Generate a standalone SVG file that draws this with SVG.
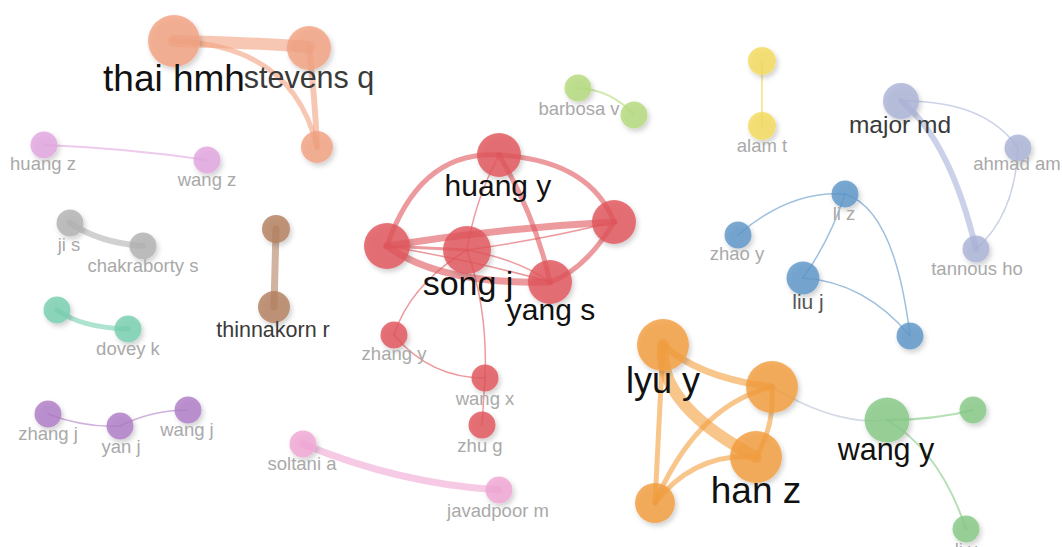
<svg xmlns="http://www.w3.org/2000/svg" width="1062" height="547" viewBox="0 0 1062 547">
<defs>
<filter id="sh" x="-50%" y="-50%" width="200%" height="200%">
<feDropShadow dx="2" dy="3" stdDeviation="2.5" flood-color="#000" flood-opacity="0.22"/>
</filter>
</defs>
<style>
.n{filter:url(#sh);fill-opacity:0.82}
.e{fill:none;stroke-linecap:round;stroke-opacity:0.6}
.t{font-family:"Liberation Sans",Arial,sans-serif;text-anchor:middle}
.s{font-size:18.5px;fill:#a9a9a9}
.big{fill:#111}
.mid{fill:#3a3a3a}
.salmon{fill:#f2a181}.salmonE{stroke:#f2a181}
.red{fill:#e0565c}.redE{stroke:#e0565c}
.org{fill:#f39e3e}.orgE{stroke:#f39e3e}
.grn{fill:#86c986}.grnE{stroke:#86c986}
.lgr{fill:#b4da7c}.lgrE{stroke:#b4da7c}
.yel{fill:#f4da5e}.yelE{stroke:#f4da5e}
.lav{fill:#a9b3d8}.lavE{stroke:#a9b3d8}
.blu{fill:#5e96c8}.bluE{stroke:#5e96c8}
.gry{fill:#b2b2b2}.gryE{stroke:#b2b2b2}
.tea{fill:#78d0b0}.teaE{stroke:#78d0b0}
.pur{fill:#b07cc6}.purE{stroke:#b07cc6}
.brn{fill:#b3805f}.brnE{stroke:#b3805f}
.pk1{fill:#e2a6df}.pk1E{stroke:#e2a6df}
.pk2{fill:#f0a6d4}.pk2E{stroke:#f0a6d4}
</style>
<rect width="1062" height="547" fill="#fff"/>
<g id="connectors">
<path class="e salmonE" stroke-width="12" d="M174,41 Q242,42 309,47"/>
<path class="e salmonE" stroke-width="6" d="M309,48 Q315,98 317,147"/>
<path class="e salmonE" stroke-width="5" d="M174,41 Q293,45 317,147"/>
<path class="e pk1E" stroke-width="2" d="M44,145 Q125,148 207,160"/>
<path class="e gryE" stroke-width="6" d="M70,223 Q100,243 143,246"/>
<path class="e teaE" stroke-width="5" d="M57,310 Q82,328 128,329"/>
<path class="e purE" stroke-width="1.5" d="M48,414 Q85,428 120,426"/>
<path class="e purE" stroke-width="1.5" d="M120,426 Q152,410 188,410"/>
<path class="e brnE" stroke-width="7" d="M276,229 L274,307"/>
<path class="e pk2E" stroke-width="7" d="M303,444 Q400,484 499,490"/>
<path class="e lgrE" stroke-width="2" d="M578,88 Q612,90 634,115"/>
<path class="e yelE" stroke-width="2" d="M762,61 L762,126"/>
<path class="e redE" stroke-width="5" d="M499,155 Q420,150 387,246"/>
<path class="e redE" stroke-width="5" d="M499,155 Q590,160 614,222"/>
<path class="e redE" stroke-width="5" d="M499,155 Q535,215 550,282"/>
<path class="e redE" stroke-width="1.5" d="M499,155 Q475,200 467,250"/>
<path class="e redE" stroke-width="7" d="M387,246 Q500,228 614,222"/>
<path class="e redE" stroke-width="7" d="M387,246 Q440,285 550,282"/>
<path class="e redE" stroke-width="3" d="M387,246 L467,250"/>
<path class="e redE" stroke-width="1.5" d="M387,246 Q480,262 550,282"/>
<path class="e redE" stroke-width="1.5" d="M467,250 Q540,240 614,222"/>
<path class="e redE" stroke-width="1.5" d="M467,250 Q520,260 550,282"/>
<path class="e redE" stroke-width="5" d="M614,222 Q585,270 550,282"/>
<path class="e redE" stroke-width="1.5" d="M467,250 Q410,285 394,335"/>
<path class="e redE" stroke-width="1.5" d="M467,250 Q488,310 485,378"/>
<path class="e redE" stroke-width="1.5" d="M394,335 Q430,378 485,378"/>
<path class="e redE" stroke-width="1.5" d="M485,378 L482,425"/>
<path class="e bluE" stroke-width="1.5" d="M738,235 Q790,190 845,194"/>
<path class="e bluE" stroke-width="1.5" d="M845,194 Q830,240 803,278"/>
<path class="e bluE" stroke-width="1.5" d="M845,194 Q895,210 910,336"/>
<path class="e bluE" stroke-width="1.5" d="M803,278 Q865,282 910,336"/>
<path class="e lavE" stroke-width="6" d="M901,101 Q950,140 976,249"/>
<path class="e lavE" stroke-width="1.5" d="M901,101 Q985,100 1018,148"/>
<path class="e lavE" stroke-width="1.5" d="M1018,148 Q1015,215 976,249"/>
<path class="e orgE" stroke-width="12" d="M663,345 Q657,405 756,457"/>
<path class="e orgE" stroke-width="7" d="M663,345 Q700,378 772,387"/>
<path class="e orgE" stroke-width="5" d="M663,345 L655,503"/>
<path class="e orgE" stroke-width="5" d="M655,503 Q697,405 772,387"/>
<path class="e orgE" stroke-width="5" d="M655,503 Q695,452 756,457"/>
<path class="e orgE" stroke-width="5" d="M772,387 Q775,425 756,457"/>
<path class="e" stroke="#b8c2d4" stroke-width="1.5" d="M772,387 Q836,426 887,420"/>
<path class="e grnE" stroke-width="2" d="M887,420 Q935,420 973,410"/>
<path class="e grnE" stroke-width="2" d="M887,420 Q940,451 966,529"/>
</g>
<g id="n-thai-hmh"><circle class="n salmon" cx="174" cy="41" r="26"/><text class="t big" x="174" y="91" font-size="37">thai hmh</text></g>
<g id="n-stevens-q"><circle class="n salmon" cx="309" cy="48" r="22"/><text class="t mid" x="309" y="88" font-size="30.5">stevens q</text></g>
<g id="n-salmon3"><circle class="n salmon" cx="317" cy="147" r="16"/></g>
<g id="n-huang-z"><circle class="n pk1" cx="44" cy="145" r="13.5"/><text class="t s" x="43" y="170">huang z</text></g>
<g id="n-wang-z"><circle class="n pk1" cx="207" cy="160" r="13.5"/><text class="t s" x="207" y="186">wang z</text></g>
<g id="n-ji-s"><circle class="n gry" cx="70" cy="223" r="13.5"/><text class="t s" x="69" y="251">ji s</text></g>
<g id="n-chakraborty-s"><circle class="n gry" cx="143" cy="246" r="13.5"/><text class="t s" x="143" y="272">chakraborty s</text></g>
<g id="n-teal1"><circle class="n tea" cx="57" cy="310" r="13.5"/></g>
<g id="n-dovey-k"><circle class="n tea" cx="128" cy="329" r="13.5"/><text class="t s" x="128" y="355">dovey k</text></g>
<g id="n-zhang-j"><circle class="n pur" cx="48" cy="414" r="13.5"/><text class="t s" x="48" y="440">zhang j</text></g>
<g id="n-yan-j"><circle class="n pur" cx="120" cy="426" r="13.5"/><text class="t s" x="121" y="453">yan j</text></g>
<g id="n-wang-j"><circle class="n pur" cx="188" cy="410" r="13.5"/><text class="t s" x="187" y="436">wang j</text></g>
<g id="n-brown1"><circle class="n brn" cx="276" cy="229" r="14"/></g>
<g id="n-thinnakorn-r"><circle class="n brn" cx="274" cy="307" r="16"/><text class="t mid" x="273" y="337" font-size="21.5">thinnakorn r</text></g>
<g id="n-soltani-a"><circle class="n pk2" cx="303" cy="444" r="13.5"/><text class="t s" x="302" y="470">soltani a</text></g>
<g id="n-javadpoor-m"><circle class="n pk2" cx="499" cy="490" r="13.5"/><text class="t s" x="498" y="517">javadpoor m</text></g>
<g id="n-red-left"><circle class="n red" cx="387" cy="246" r="23"/></g>
<g id="n-red-right"><circle class="n red" cx="614" cy="222" r="22"/></g>
<g id="n-huang-y"><circle class="n red" cx="499" cy="155" r="22"/><text class="t big" x="498" y="196" font-size="30">huang y</text></g>
<g id="n-song-j"><circle class="n red" cx="467" cy="250" r="24"/><text class="t big" x="468" y="295" font-size="34">song j</text></g>
<g id="n-yang-s"><circle class="n red" cx="550" cy="282" r="22"/><text class="t big" x="551" y="320" font-size="30">yang s</text></g>
<g id="n-zhang-y"><circle class="n red" cx="394" cy="335" r="13.5"/><text class="t s" x="394" y="360">zhang y</text></g>
<g id="n-wang-x"><circle class="n red" cx="485" cy="378" r="13.5"/><text class="t s" x="485" y="405">wang x</text></g>
<g id="n-zhu-g"><circle class="n red" cx="482" cy="425" r="13.5"/><text class="t s" x="480" y="452">zhu g</text></g>
<g id="n-barbosa-v"><circle class="n lgr" cx="578" cy="88" r="13.5"/><text class="t s" x="579" y="115">barbosa v</text></g>
<g id="n-lgreen2"><circle class="n lgr" cx="634" cy="115" r="13.5"/></g>
<g id="n-yellow1"><circle class="n yel" cx="762" cy="61" r="14"/></g>
<g id="n-alam-t"><circle class="n yel" cx="762" cy="126" r="14"/><text class="t s" x="762" y="152">alam t</text></g>
<g id="n-major-md"><circle class="n lav" cx="901" cy="101" r="18"/><text class="t mid" x="900" y="133" font-size="24.5">major md</text></g>
<g id="n-ahmad-am"><circle class="n lav" cx="1018" cy="148" r="13.5"/><text class="t s" x="1017" y="170">ahmad am</text></g>
<g id="n-tannous-ho"><circle class="n lav" cx="976" cy="249" r="13.5"/><text class="t s" x="977" y="275">tannous ho</text></g>
<g id="n-li-z"><circle class="n blu" cx="845" cy="194" r="13.5"/><text class="t s" x="844" y="220">li z</text></g>
<g id="n-zhao-y"><circle class="n blu" cx="738" cy="235" r="13.5"/><text class="t s" x="737" y="260">zhao y</text></g>
<g id="n-liu-j"><circle class="n blu" cx="803" cy="278" r="16.5"/><text class="t" x="808" y="309" font-size="21" fill="#555">liu j</text></g>
<g id="n-blue4"><circle class="n blu" cx="910" cy="336" r="13.5"/></g>
<g id="n-lyu-y"><circle class="n org" cx="663" cy="345" r="26"/><text class="t big" x="663" y="393" font-size="36">lyu y</text></g>
<g id="n-orange2"><circle class="n org" cx="772" cy="387" r="26"/></g>
<g id="n-han-z"><circle class="n org" cx="756" cy="457" r="26"/><text class="t big" x="756" y="503" font-size="37">han z</text></g>
<g id="n-orange4"><circle class="n org" cx="655" cy="503" r="20"/></g>
<g id="n-wang-y"><circle class="n grn" cx="887" cy="420" r="22.5"/><text class="t big" x="886" y="460" font-size="30.5">wang y</text></g>
<g id="n-green2"><circle class="n grn" cx="973" cy="410" r="13.5"/></g>
<g id="n-li-y"><circle class="n grn" cx="966" cy="529" r="13.5"/><text class="t s" x="966" y="556">li y</text></g>
</svg>
